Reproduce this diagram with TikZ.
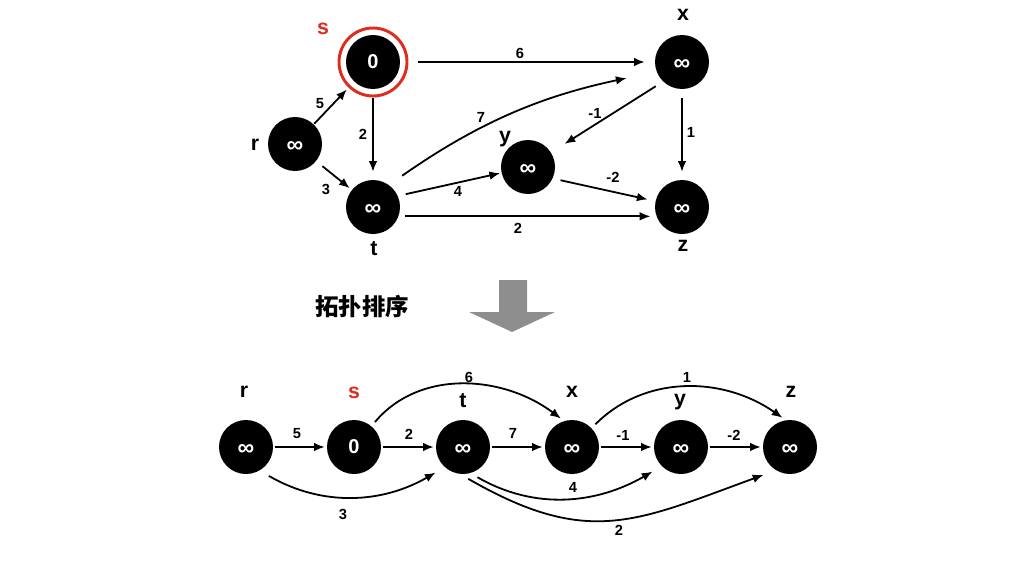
\documentclass[tikz,border=0pt]{standalone}
\usepackage{fontspec}
\setmainfont{Liberation Sans}
\newfontfamily\cjk{Noto Sans CJK SC}
\usetikzlibrary{arrows.meta}
\definecolor{sred}{RGB}{222,44,30}
\definecolor{arrowgray}{RGB}{142,142,142}
\newcommand{\infsym}{\raisebox{-6.6pt}{∞}}

\begin{document}
\begin{tikzpicture}[x=0.75pt, y=-0.75pt,
  vertex/.style={circle, fill=black, text=white, inner sep=0pt, minimum size=40.5pt, font=\fontsize{15}{15}\selectfont\bfseries},
  infv/.style={vertex, text height=0pt, text depth=0pt, font=\fontsize{17.5}{17.5}\selectfont\bfseries},
  vlabel/.style={font=\fontsize{16}{16}\selectfont\bfseries},
  wt/.style={font=\fontsize{11}{11}\selectfont\bfseries},
  link/.style={-{Latex[length=8pt,width=6.5pt]}, line width=1.35pt}]
%\draw[step=100,gray,very thin] (0,0) grid (1024,564);
\useasboundingbox (0,0) rectangle (1024,564);

% graph before sorting
\node[vertex] (s) at (373,62) {0};
\node[circle, draw=sred, line width=2.2pt, minimum size=51pt, inner sep=0pt] (sring) at (s) {};
\node[infv] (x) at (682,62) {\infsym};
\node[infv] (r) at (295,144) {\infsym};
\node[infv] (t) at (373,207) {\infsym};
\node[infv] (y) at (528,167) {\infsym};
\node[infv] (z) at (682,207) {\infsym};

\node[vlabel, text=sred] (ls) at (323,29) {s};
\node[vlabel] (lx) at (683,15) {x};
\node[vlabel] (lr) at (255,145) {r};
\node[vlabel] (ly) at (505,139) {y};
\node[vlabel] (lt) at (374,249) {t};
\node[vlabel] (lz) at (683,246) {z};

\draw[link, shorten <=13.5pt, shorten >=7.5pt] (s) -- (x);
\draw[link, shorten <=0.5pt, shorten >=8pt] (r) -- (s);
\draw[link, shorten <=6pt, shorten >=2pt] (r) -- (t);
\draw[link, shorten <=6.5pt, shorten >=6pt] (s) -- (t);
\draw[link, shorten <=12pt, shorten >=23pt] (t.54) to[out=35, in=192] (x.201);
\draw[link, shorten <=6.5pt, shorten >=12pt] (x.226) -- (y);
\draw[link, shorten <=6.5pt, shorten >=6pt] (x) -- (z);
\draw[link, shorten <=6pt, shorten >=1pt] (t.24) -- (y);
\draw[link, shorten <=6pt, shorten >=6pt] (y.-25) -- (z);
\draw[link, shorten <=5pt, shorten >=4.5pt] (t.-20) -- (z.-160);

\node[wt] (w6) at (520,53) {6};
\node[wt] (w5) at (320,104) {5};
\node[wt] (w3) at (326,189) {3};
\node[wt] (w2a) at (363,134) {2};
\node[wt] (w7) at (481,117) {7};
\node[wt] (wm1) at (595,113) {-1};
\node[wt] (w1) at (691,132) {1};
\node[wt] (w4) at (458,191) {4};
\node[wt] (wm2) at (613,177) {-2};
\node[wt] (w2b) at (518,228) {2};

% sorting step
\node[font=\cjk\fontsize{17.6}{17.6}\selectfont\bfseries] (topo) at (362,307) {拓扑排序};
\fill[arrowgray] (499,280) -- (527,280) -- (527,312) -- (555,312) -- (512,332) -- (469,312) -- (499,312) -- cycle;

% graph after sorting
\node[infv] (r2) at (246,447) {\infsym};
\node[vertex] (s2) at (354,447) {0};
\node[infv] (t2) at (463,447) {\infsym};
\node[infv] (x2) at (572,447) {\infsym};
\node[infv] (y2) at (681,447) {\infsym};
\node[infv] (z2) at (790,447) {\infsym};

\node[vlabel] (lr2) at (244,392) {r};
\node[vlabel, text=sred] (ls2) at (354,393) {s};
\node[vlabel] (lt2) at (463,401) {t};
\node[vlabel] (lx2) at (572,392) {x};
\node[vlabel] (ly2) at (680,402) {y};
\node[vlabel] (lz2) at (791,392) {z};

\draw[link, shorten <=1pt, shorten >=1.5pt] (r2) -- (s2);
\draw[link, shorten <=1pt, shorten >=1.5pt] (s2) -- (t2);
\draw[link, shorten <=1pt, shorten >=1.5pt] (t2) -- (x2);
\draw[link, shorten <=1pt, shorten >=1.5pt] (x2) -- (y2);
\draw[link, shorten <=1pt, shorten >=1.5pt] (y2) -- (z2);
\draw[link, shorten <=4pt, shorten >=3pt] (s2.50) to[out=50, in=143] (x2.107);
\draw[link, shorten <=4pt, shorten >=3pt] (x2.44) to[out=45, in=145] (z2.99);
\draw[link, shorten <=8pt, shorten >=8pt] (r2.-60) to[out=-30, in=210] (t2.228);
\draw[link, shorten <=6pt, shorten >=8pt] (t2.-74) to[out=-30, in=210] (y2.225);
\draw[link, shorten <=7pt, shorten >=10pt] (t2.-96) to[out=-30, in=200, looseness=1.2] (z2.239);

\node[wt] (v5) at (297,434) {5};
\node[wt] (v2a) at (409,434) {2};
\node[wt] (v7) at (513,433) {7};
\node[wt] (vm1) at (623,435) {-1};
\node[wt] (vm2) at (734,435) {-2};
\node[wt] (v6) at (469,377) {6};
\node[wt] (v1) at (687,377) {1};
\node[wt] (v3) at (343,514) {3};
\node[wt] (v4) at (573,487) {4};
\node[wt] (v2b) at (619,530) {2};

\end{tikzpicture}
\end{document}
